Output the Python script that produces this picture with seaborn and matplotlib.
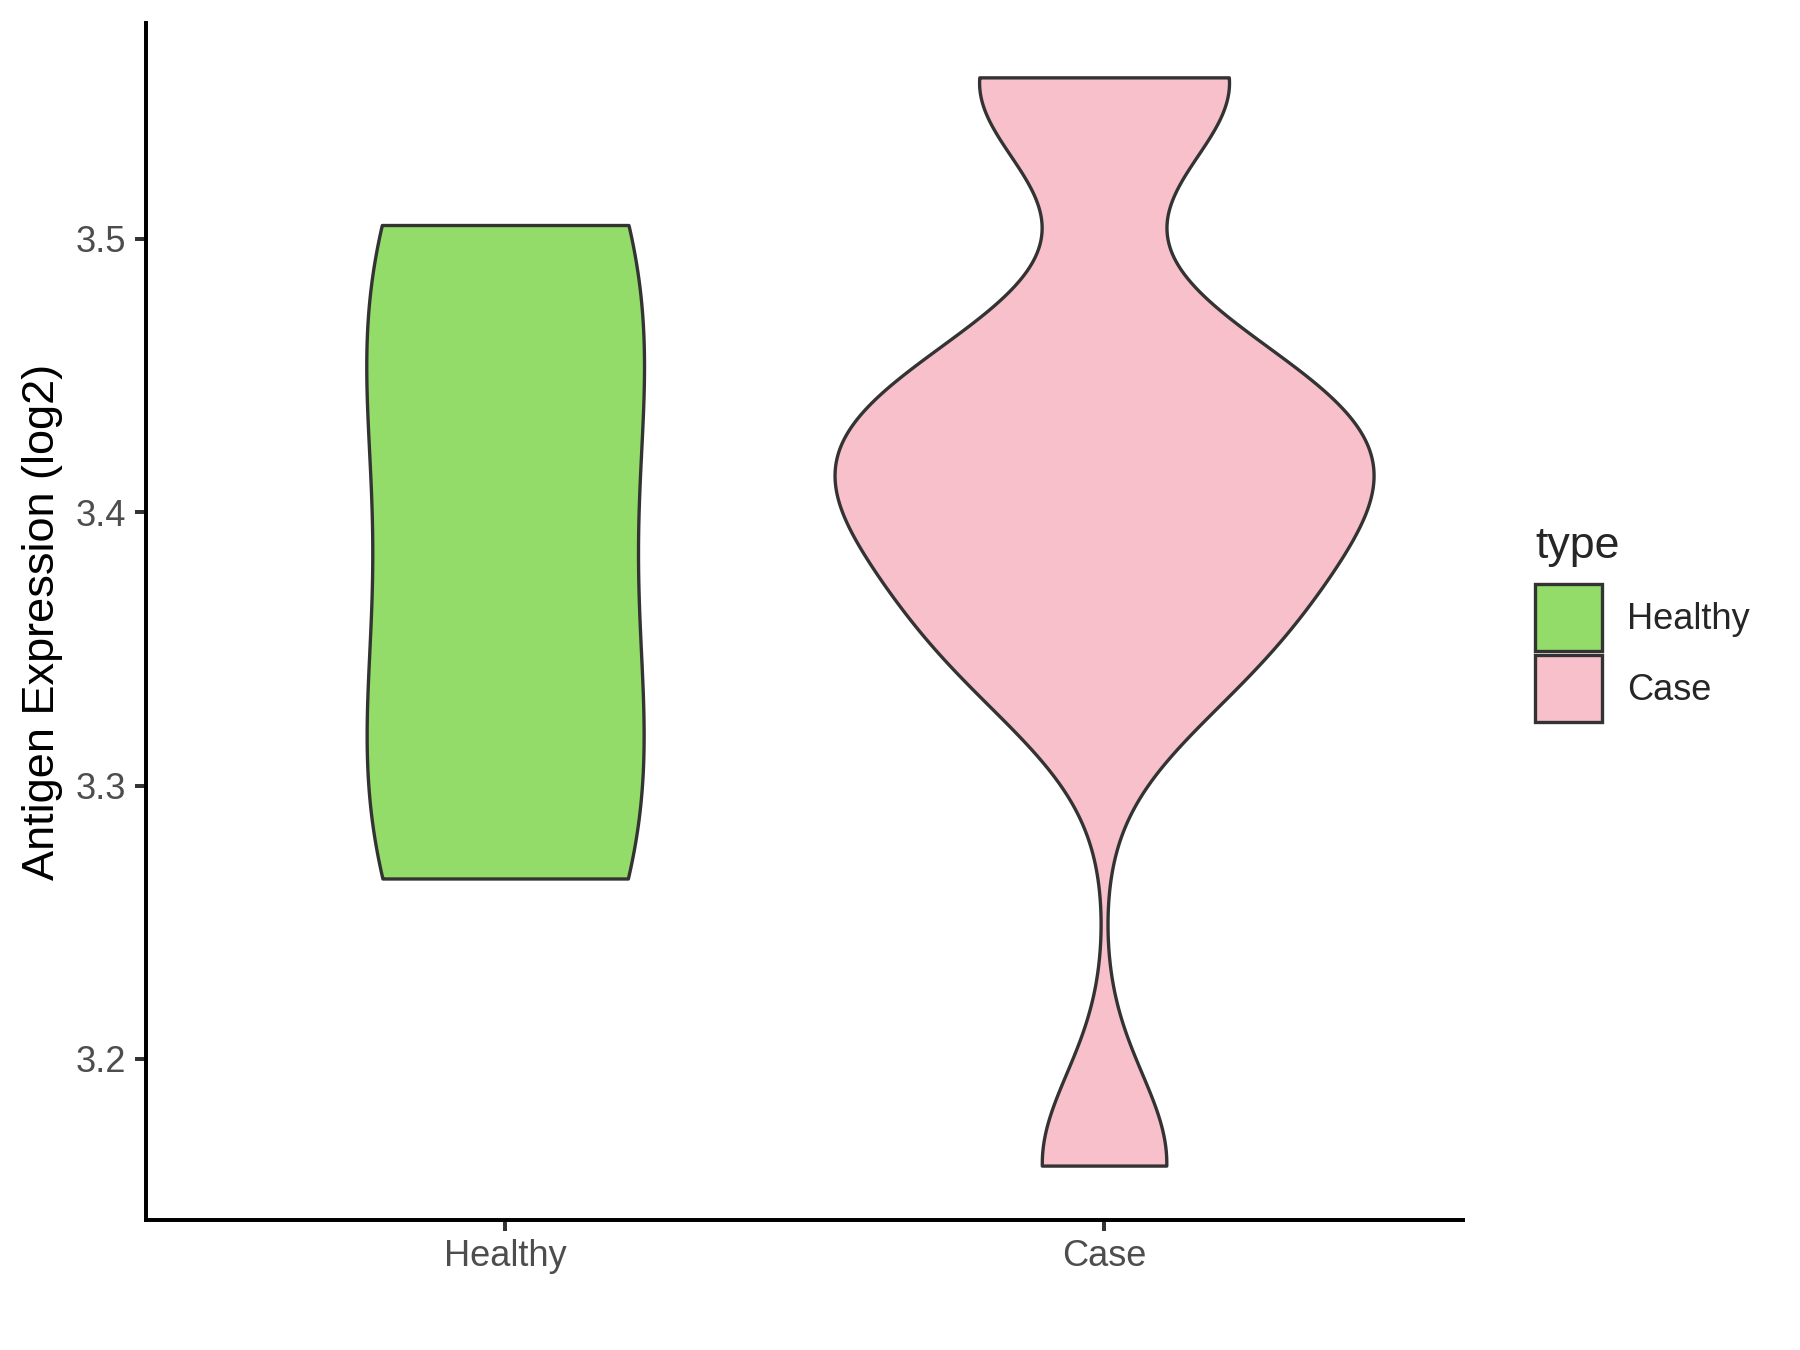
import numpy as np
import pandas as pd
import seaborn as sns
import matplotlib.pyplot as plt
from matplotlib.patches import Patch

# values (log2 antigen expression)
groups = ["Healthy", "Case"]
colors = ["#93DC6A", "#F7C0CB"]
healthy = [3.266, 3.322, 3.45, 3.505]
case = [3.161, 3.163,
        3.335, 3.345, 3.355, 3.365, 3.385, 3.395, 3.405, 3.41, 3.415, 3.425,
        3.435, 3.44, 3.45, 3.455,
        3.556, 3.557, 3.558, 3.559]

df = pd.DataFrame({
    "type": ["Healthy"] * len(healthy) + ["Case"] * len(case),
    "value": healthy + case,
})


def nrd0(kde):
    # R's bw.nrd0 (what ggplot uses), returned as a factor of the sd
    x = kde.dataset[0]
    sd = np.std(x, ddof=1)
    q75, q25 = np.percentile(x, [75, 25])
    lo = min(sd, (q75 - q25) / 1.34)
    return 0.9 * lo * len(x) ** -0.2 / sd


sns.set_style("ticks")
plt.rcParams["font.family"] = ["Liberation Sans", "DejaVu Sans"]

fig, ax = plt.subplots(figsize=(12, 9), dpi=150)
fig.subplots_adjust(left=0.081, right=0.813, bottom=0.0963, top=0.983)

sns.violinplot(data=df, x="type", y="value", hue="type", order=groups,
               hue_order=groups, palette=colors, saturation=1, cut=0,
               density_norm="area", common_norm=True, bw_method=nrd0,
               gridsize=512, width=0.9, inner=None, linewidth=1.6,
               linecolor="#333333", legend=False, ax=ax)

# ggplot-like expansion
vals = df["value"]
pad = (vals.max() - vals.min()) * 0.05
ax.set_ylim(vals.min() - pad, vals.max() + pad)
ax.set_xlim(-0.6, 1.6)
ax.set_yticks([3.2, 3.3, 3.4, 3.5])
ax.set_yticklabels(["3.2", "3.3", "3.4", "3.5"])

sns.despine(ax=ax)
for s in ["left", "bottom"]:
    ax.spines[s].set_linewidth(1.9)
    ax.spines[s].set_color("black")
ax.tick_params(length=5.3, width=1.9, color="#333333", labelsize=17.4,
               labelcolor="#4D4D4D", pad=4)
ax.set_xlabel("")
ax.set_ylabel("Antigen Expression (log2)", fontsize=21.7, color="black",
              labelpad=6)

handles = [Patch(facecolor=c, edgecolor="#333333", linewidth=1.6, label=g)
           for g, c in zip(groups, colors)]
leg = ax.legend(handles=handles, title="type", loc="center left",
                bbox_to_anchor=(0.853, 0.538), bbox_transform=fig.transFigure,
                frameon=False, fontsize=17.4, title_fontsize=21.5,
                handlelength=1.84, handleheight=2.45, labelspacing=0.12,
                handletextpad=0.7, alignment="left", borderaxespad=0,
                borderpad=0)
leg._legend_box.sep = 8.5  # a bit more room under the title

fig.savefig("out.png", dpi=150)
